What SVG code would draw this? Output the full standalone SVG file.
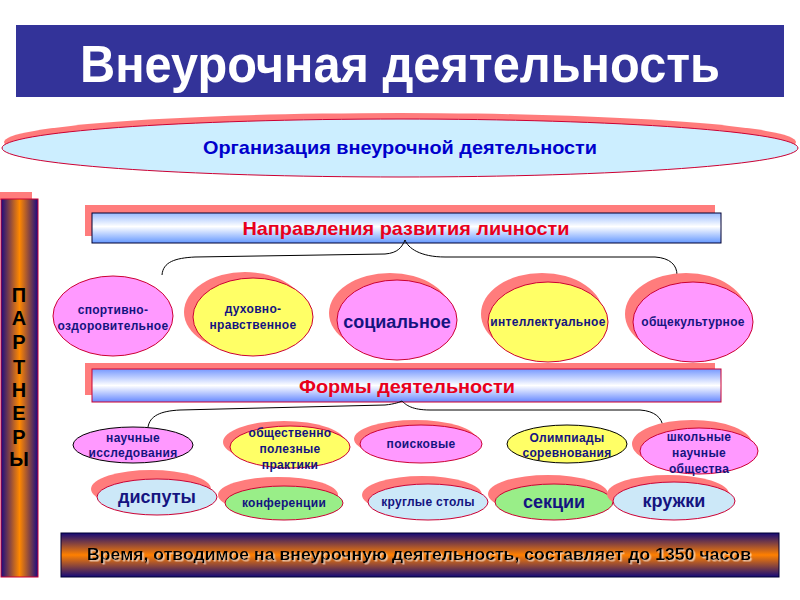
<svg xmlns="http://www.w3.org/2000/svg" width="800" height="600" viewBox="0 0 800 600">
<defs>
<linearGradient id="gBar" x1="0" y1="0" x2="1" y2="0">
<stop offset="0" stop-color="#1a0a80"/><stop offset="0.5" stop-color="#ff8800"/><stop offset="1" stop-color="#1a0a80"/>
</linearGradient>
<linearGradient id="gBand" x1="0" y1="0" x2="0" y2="1">
<stop offset="0" stop-color="#140a78"/><stop offset="0.5" stop-color="#ff8000"/><stop offset="1" stop-color="#140a78"/>
</linearGradient>
<linearGradient id="gBox" x1="0" y1="0" x2="0" y2="1">
<stop offset="0" stop-color="#99bbff"/><stop offset="0.45" stop-color="#ffffff"/><stop offset="1" stop-color="#6699ff"/>
</linearGradient>
<linearGradient id="gBox2" x1="0" y1="0" x2="0" y2="1">
<stop offset="0" stop-color="#7799ff"/><stop offset="0.5" stop-color="#ffffff"/><stop offset="1" stop-color="#6688ff"/>
</linearGradient>
<filter id="lightShadow" x="-5%" y="-30%" width="110%" height="160%">
<feDropShadow dx="1.5" dy="1.5" stdDeviation="0.3" flood-color="#ffffff" flood-opacity="0.6"/>
</filter>
</defs>
<style>
.sh{fill:#ff7c7c}
.pk{fill:#ff99ff;stroke:#cc0033;stroke-width:1}
.yl{fill:#ffff66;stroke:#cc0033;stroke-width:1}
.bl{fill:#cce8f8;stroke:#cc0033;stroke-width:1}
.gr{fill:#99ee88;stroke:#cc0033;stroke-width:1}
.kb{stroke:#000000}
.t{font-family:"Liberation Sans",Arial,sans-serif;font-weight:bold;fill:#141480;text-anchor:middle}
.s{font-size:12px;letter-spacing:0.3px}
.l{font-size:18px}
.hd{font-family:"Liberation Sans",Arial,sans-serif;font-weight:bold;fill:#e8001c;text-anchor:middle;font-size:19px}
.conn{fill:none;stroke:#000000;stroke-width:1}
.pt{font-family:"Liberation Sans",Arial,sans-serif;font-weight:bold;font-size:20px;fill:#000000;text-anchor:middle}
.bt{font-family:"Liberation Sans",Arial,sans-serif;font-weight:bold;font-size:17px;text-anchor:middle}
</style>
<rect width="800" height="600" fill="#ffffff"/>

<g id="title">
<rect x="16" y="25" width="768" height="72" fill="#333399"/>
<text x="400" y="82" font-family="Liberation Sans,Arial,sans-serif" font-weight="bold" font-size="52" fill="#ffffff" text-anchor="middle" textLength="640" lengthAdjust="spacingAndGlyphs">Внеурочная деятельность</text>
</g>

<g id="organization">
<ellipse cx="400" cy="142" rx="396" ry="29" class="sh"/>
<ellipse cx="400" cy="148" rx="398" ry="29" fill="#cceeff" stroke="#cc0033" stroke-width="1"/>
<text x="400" y="154" font-family="Liberation Sans,Arial,sans-serif" font-weight="bold" font-size="19" fill="#0000cc" text-anchor="middle" textLength="394" lengthAdjust="spacingAndGlyphs">Организация внеурочной деятельности</text>
</g>

<g id="partners">
<rect x="0" y="192" width="32" height="8" class="sh"/>
<rect x="1" y="199" width="37" height="378" fill="url(#gBar)" stroke="#cc0033" stroke-width="1"/>
<text class="pt" x="19" y="302">П</text>
<text class="pt" x="19" y="325">А</text>
<text class="pt" x="19" y="349">Р</text>
<text class="pt" x="19" y="374">Т</text>
<text class="pt" x="19" y="397">Н</text>
<text class="pt" x="19" y="420">Е</text>
<text class="pt" x="19" y="444">Р</text>
<text class="pt" x="19" y="466">Ы</text>
</g>

<g id="directions">
<rect x="85" y="205" width="630" height="31" class="sh"/>
<rect x="92" y="213" width="629" height="30" fill="url(#gBox)" stroke="#000033" stroke-width="1"/>
<text class="hd" x="406" y="235" textLength="327" lengthAdjust="spacingAndGlyphs">Направления развития личности</text>
</g>

<g id="forms">
<rect x="85" y="363" width="630" height="32" class="sh"/>
<rect x="92" y="369" width="629" height="33" fill="url(#gBox2)" stroke="#cc0033" stroke-width="1"/>
<text class="hd" x="407" y="393" textLength="216" lengthAdjust="spacingAndGlyphs">Формы деятельности</text>
</g>

<g id="connectors">
<path class="conn" d="M162,275 C163,262 175,258 195,257 L385,254 C398,253 402,247 405,240 C408,248 420,257 445,257 L655,257 C670,258 677,265 677,275"/>
<path class="conn" d="M148,427 C150,416 160,411 180,410 L385,405 C395,404 400,402 402,401 C406,405 412,410 430,410 L640,410 C655,411 662,418 663,427"/>
</g>

<g id="n-sport">
<ellipse cx="113" cy="316" rx="60" ry="40" class="pk"/>
<text class="t s" x="113" y="314">спортивно-</text>
<text class="t s" x="113" y="330">оздоровительное</text>
</g>
<g id="n-spirit">
<ellipse cx="245" cy="312" rx="61" ry="40" class="sh"/>
<ellipse cx="253" cy="317" rx="60" ry="39" class="yl"/>
<text class="t s" x="253" y="313">духовно-</text>
<text class="t s" x="253" y="329">нравственное</text>
</g>
<g id="n-social">
<ellipse cx="390" cy="313" rx="61" ry="40" class="sh"/>
<ellipse cx="397" cy="320" rx="60" ry="40" class="pk"/>
<text class="t l" x="397" y="328">социальное</text>
</g>
<g id="n-intel">
<ellipse cx="542" cy="314" rx="61" ry="41" class="sh"/>
<ellipse cx="548" cy="322" rx="60" ry="40" class="yl"/>
<text class="t s" x="548" y="326">интеллектуальное</text>
</g>
<g id="n-culture">
<ellipse cx="686" cy="314" rx="61" ry="41" class="sh"/>
<ellipse cx="693" cy="322" rx="60" ry="40" class="pk"/>
<text class="t s" x="693" y="326">общекультурное</text>
</g>

<g id="n-research">
<ellipse cx="133" cy="445" rx="60" ry="18" class="pk kb"/>
<text class="t s" x="133" y="442">научные</text>
<text class="t s" x="133" y="457">исследования</text>
</g>
<g id="n-practice">
<ellipse cx="284" cy="442" rx="61" ry="21" class="sh"/>
<ellipse cx="290" cy="447" rx="60" ry="21" class="yl"/>
<text class="t s" x="290" y="437">общественно</text>
<text class="t s" x="290" y="453">полезные</text>
<text class="t s" x="290" y="469">практики</text>
</g>
<g id="n-search">
<ellipse cx="415" cy="439" rx="61" ry="19" class="sh"/>
<ellipse cx="421" cy="444" rx="61" ry="19" class="pk"/>
<text class="t s" x="421" y="448">поисковые</text>
</g>
<g id="n-olymp">
<ellipse cx="567" cy="444" rx="60" ry="19" class="yl kb"/>
<text class="t s" x="567" y="442">Олимпиады</text>
<text class="t s" x="567" y="457">соревнования</text>
</g>
<g id="n-school">
<ellipse cx="692" cy="444" rx="60" ry="24" class="sh"/>
<ellipse cx="699" cy="451" rx="59" ry="23" class="pk"/>
<text class="t s" x="699" y="441">школьные</text>
<text class="t s" x="699" y="457">научные</text>
<text class="t s" x="699" y="473">общества</text>
</g>

<g id="n-disput">
<ellipse cx="151" cy="489" rx="60" ry="19" class="sh"/>
<ellipse cx="157" cy="497" rx="60" ry="18" class="bl"/>
<text class="t l" x="157" y="503">диспуты</text>
</g>
<g id="n-conf">
<ellipse cx="278" cy="495" rx="60" ry="18" class="sh"/>
<ellipse cx="284" cy="503" rx="59" ry="17" class="gr"/>
<text class="t s" x="284" y="507">конференции</text>
</g>
<g id="n-round">
<ellipse cx="422" cy="495" rx="60" ry="19" class="sh"/>
<ellipse cx="428" cy="502" rx="60" ry="18" class="bl"/>
<text class="t s" x="428" y="506">круглые столы</text>
</g>
<g id="n-sect">
<ellipse cx="548" cy="494" rx="60" ry="19" class="sh"/>
<ellipse cx="554" cy="502" rx="59" ry="18" class="gr"/>
<text class="t l" x="554" y="508">секции</text>
</g>
<g id="n-circle">
<ellipse cx="668" cy="494" rx="61" ry="19" class="sh"/>
<ellipse cx="674" cy="501" rx="61" ry="19" class="bl"/>
<text class="t l" x="674" y="507">кружки</text>
</g>

<g id="time">
<rect x="61" y="533" width="718" height="44" fill="url(#gBand)" stroke="#000033" stroke-width="1"/>
<text class="bt" x="419" y="560" fill="#000000" filter="url(#lightShadow)" textLength="664" lengthAdjust="spacingAndGlyphs">Время, отводимое на внеурочную деятельность, составляет до 1350 часов</text>
</g>
</svg>
